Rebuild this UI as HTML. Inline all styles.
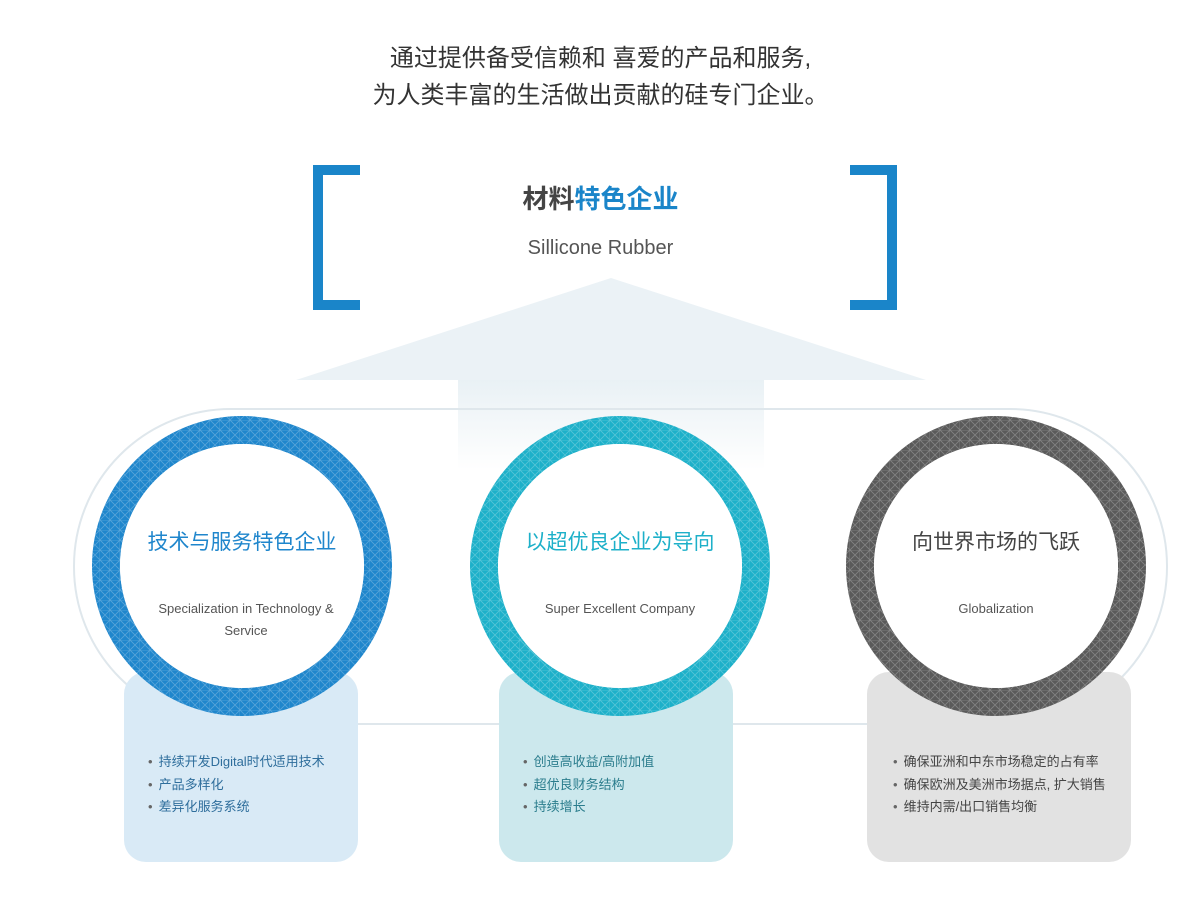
<!DOCTYPE html>
<html><head><meta charset="utf-8"><style>
body{margin:0;width:1201px;height:918px;background:#fff;position:relative;overflow:hidden;font-family:"Liberation Sans","Noto Sans CJK SC",sans-serif}
.a{position:absolute}
.t{position:absolute;left:0;width:1201px;text-align:center;font-size:24px;color:#333;line-height:37px}
.box{position:absolute;top:672px;height:190px;border-radius:22px}
.ul{position:absolute;top:751px;font-size:13px;line-height:22.5px;margin:0;padding:0;list-style:none}
.ul li:before{content:"•";color:#666;margin-right:6px}
.ct{position:absolute;width:260px;text-align:center}
.h{font-size:21px;top:526px}
.s{font-size:13px;color:#555;line-height:22px}
</style></head><body>
<div class="t" style="top:40px">通过提供备受信赖和 喜爱的产品和服务,<br>为人类丰富的生活做出贡献的硅专门企业。</div>
<div class="a" style="left:313px;top:165px;width:37px;height:125px;border:10px solid #1a85c9;border-right:none"></div>
<div class="a" style="left:850px;top:165px;width:37px;height:125px;border:10px solid #1a85c9;border-left:none"></div>
<div class="a" style="left:0;width:1201px;top:179px;text-align:center;font-size:26px;font-weight:bold;color:#444">材料<span style="color:#1a85c9">特色企业</span></div>
<div class="a" style="left:0;width:1201px;top:237px;text-align:center;font-size:20px;color:#555">Sillicone Rubber</div>
<svg class="a" style="left:0;top:0" width="1201" height="918">
<defs><linearGradient id="g" x1="0" y1="0" x2="0" y2="1"><stop offset="0" stop-color="#e9f1f5"/><stop offset="1" stop-color="#fff"/></linearGradient>
<pattern id="p" width="10" height="10" patternUnits="userSpaceOnUse"><path d="M0 0L10 10M10 0L0 10M0 0H10V10" stroke="rgba(255,255,255,0.25)" stroke-width="0.8" fill="none"/></pattern></defs>
<polygon points="296,380 611,278 926,380" fill="#ebf2f6"/>
<rect x="458" y="380" width="306" height="90" fill="url(#g)"/>
<rect x="74" y="409" width="1093" height="315" rx="157" fill="none" stroke="#dfe7ec" stroke-width="2"/>
</svg>
<div class="box" style="left:124px;width:234px;background:#d9eaf6"></div>
<div class="box" style="left:499px;width:234px;background:#cce8ed"></div>
<div class="box" style="left:867px;width:264px;background:#e2e2e2"></div>
<svg class="a" style="left:0;top:0" width="1201" height="918">
<circle cx="242" cy="566" r="136" fill="none" stroke="#1f86cc" stroke-width="28"/>
<circle cx="242" cy="566" r="136" fill="none" stroke="url(#p)" stroke-width="28"/>
<circle cx="620" cy="566" r="136" fill="none" stroke="#1db0c9" stroke-width="28"/>
<circle cx="620" cy="566" r="136" fill="none" stroke="url(#p)" stroke-width="28"/>
<circle cx="996" cy="566" r="136" fill="none" stroke="#5a5a5a" stroke-width="28"/>
<circle cx="996" cy="566" r="136" fill="none" stroke="url(#p)" stroke-width="28"/>
<circle cx="242" cy="566" r="122" fill="#fff"/><circle cx="620" cy="566" r="122" fill="#fff"/><circle cx="996" cy="566" r="122" fill="#fff"/>
</svg>
<div class="ct h" style="left:112px;color:#1f86cc">技术与服务特色企业</div>
<div class="ct s" style="left:116px;top:598px">Specialization in Technology &amp;<br>Service</div>
<div class="ct h" style="left:490px;color:#1db0c9">以超优良企业为导向</div>
<div class="ct s" style="left:490px;top:598px">Super Excellent Company</div>
<div class="ct h" style="left:866px;color:#444">向世界市场的飞跃</div>
<div class="ct s" style="left:866px;top:598px">Globalization</div>
<ul class="ul" style="left:148px;color:#2f6e9c"><li>持续开发Digital时代适用技术</li><li>产品多样化</li><li>差异化服务系统</li></ul>
<ul class="ul" style="left:523px;color:#2b7d8d"><li>创造高收益/高附加值</li><li>超优良财务结构</li><li>持续增长</li></ul>
<ul class="ul" style="left:893px;color:#444"><li>确保亚洲和中东市场稳定的占有率</li><li>确保欧洲及美洲市场据点, 扩大销售</li><li>维持内需/出口销售均衡</li></ul>
</body></html>
